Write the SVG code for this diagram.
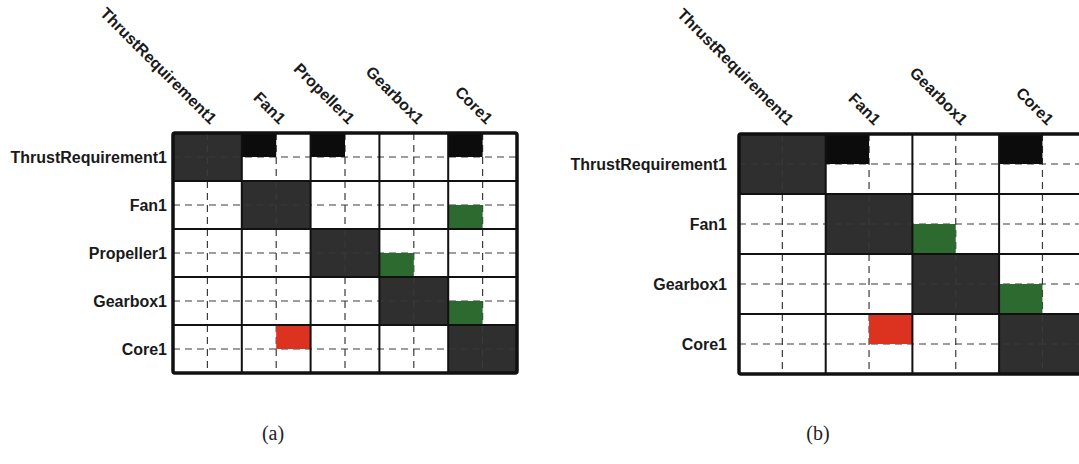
<svg xmlns="http://www.w3.org/2000/svg" width="1079" height="464" viewBox="0 0 1079 464">
<style>
.lbl{font-family:"Liberation Sans",Arial,sans-serif;font-weight:bold;font-size:16px;fill:#1a1a1a}
.rl{text-anchor:end}
.cap{font-family:"Liberation Serif","Times New Roman",serif;font-size:20px;fill:#222;text-anchor:middle}
.diag{fill:#2f2f2f}
.blk{fill:#0c0c0c}
.grn{fill:#2d6a30}
.red{fill:#dc3220}
.dash{stroke:#3a3a3a;stroke-width:1.2;stroke-dasharray:7 5;fill:none}
.grid{stroke:#111;stroke-width:2;fill:none}
.border{stroke:#111;stroke-width:3.5;fill:none}
</style>
<rect width="1079" height="464" fill="#fff"/>

<!-- Matrix (a) -->
<g id="matrix-a">
  <g id="a-cells">
    <rect x="173" y="133" width="344" height="240" fill="#fff"/>
    <rect class="diag" x="173" y="133" width="68.8" height="48"/>
    <rect class="diag" x="241.8" y="181" width="68.8" height="48"/>
    <rect class="diag" x="310.6" y="229" width="68.8" height="48"/>
    <rect class="diag" x="379.4" y="277" width="68.8" height="48"/>
    <rect class="diag" x="448.2" y="325" width="68.8" height="48"/>
  </g>
  <g id="a-dashes">
    <path class="dash" d="M173 157H517M173 205H517M173 253H517M173 301H517M173 349H517"/>
    <path class="dash" d="M207.4 133V373M276.2 133V373M345 133V373M413.8 133V373M482.6 133V373"/>
  </g>
  <g id="a-marks">
    <rect class="blk" x="241.8" y="133" width="34.4" height="24"/>
    <rect class="blk" x="310.6" y="133" width="34.4" height="24"/>
    <rect class="blk" x="448.2" y="133" width="34.4" height="24"/>
    <rect class="grn" x="448.2" y="205" width="34.4" height="24"/>
    <rect class="grn" x="379.4" y="253" width="34.4" height="24"/>
    <rect class="grn" x="448.2" y="301" width="34.4" height="24"/>
    <rect class="red" x="276.2" y="325" width="34.4" height="24"/>
  </g>
  <g id="a-grid">
    <path class="grid" d="M241.8 133V373M310.6 133V373M379.4 133V373M448.2 133V373M173 181H517M173 229H517M173 277H517M173 325H517"/>
    <rect class="border" x="173" y="133" width="344" height="240" rx="2"/>
  </g>
  <g id="a-row-labels" class="lbl rl">
    <text x="167" y="163">ThrustRequirement1</text>
    <text x="167" y="211">Fan1</text>
    <text x="167" y="259">Propeller1</text>
    <text x="167" y="307">Gearbox1</text>
    <text x="167" y="355">Core1</text>
  </g>
  <g id="a-col-labels" class="lbl rl">
    <text transform="translate(210,125) rotate(45)">ThrustRequirement1</text>
    <text transform="translate(279,125) rotate(45)">Fan1</text>
    <text transform="translate(348,125) rotate(45)">Propeller1</text>
    <text transform="translate(417,125) rotate(45)">Gearbox1</text>
    <text transform="translate(486,125) rotate(45)">Core1</text>
  </g>
  <text id="cap-a" class="cap" x="273" y="440">(a)</text>
</g>

<!-- Matrix (b) -->
<g id="matrix-b">
  <g id="b-cells">
    <rect x="739" y="134" width="346.8" height="240" fill="#fff"/>
    <rect class="diag" x="739" y="134" width="86.7" height="60"/>
    <rect class="diag" x="825.7" y="194" width="86.7" height="60"/>
    <rect class="diag" x="912.4" y="254" width="86.7" height="60"/>
    <rect class="diag" x="999.1" y="314" width="86.7" height="60"/>
  </g>
  <g id="b-dashes">
    <path class="dash" d="M739 164H1086M739 224H1086M739 284H1086M739 344H1086"/>
    <path class="dash" d="M782.35 134V374M869.05 134V374M955.75 134V374M1042.45 134V374"/>
  </g>
  <g id="b-marks">
    <rect class="blk" x="825.7" y="134" width="43.35" height="30"/>
    <rect class="blk" x="999.1" y="134" width="43.35" height="30"/>
    <rect class="grn" x="912.4" y="224" width="43.35" height="30"/>
    <rect class="grn" x="999.1" y="284" width="43.35" height="30"/>
    <rect class="red" x="869.05" y="314" width="43.35" height="30"/>
  </g>
  <g id="b-grid">
    <path class="grid" d="M825.7 134V374M912.4 134V374M999.1 134V374M739 194H1086M739 254H1086M739 314H1086"/>
    <rect class="border" x="739" y="134" width="346.8" height="240" rx="2"/>
  </g>
  <g id="b-row-labels" class="lbl rl">
    <text x="727" y="170">ThrustRequirement1</text>
    <text x="727" y="230">Fan1</text>
    <text x="727" y="290">Gearbox1</text>
    <text x="727" y="350">Core1</text>
  </g>
  <g id="b-col-labels" class="lbl rl">
    <text transform="translate(787,126) rotate(45)">ThrustRequirement1</text>
    <text transform="translate(874,126) rotate(45)">Fan1</text>
    <text transform="translate(961,126) rotate(45)">Gearbox1</text>
    <text transform="translate(1047,126) rotate(45)">Core1</text>
  </g>
  <text id="cap-b" class="cap" x="818" y="440">(b)</text>
</g>
</svg>
